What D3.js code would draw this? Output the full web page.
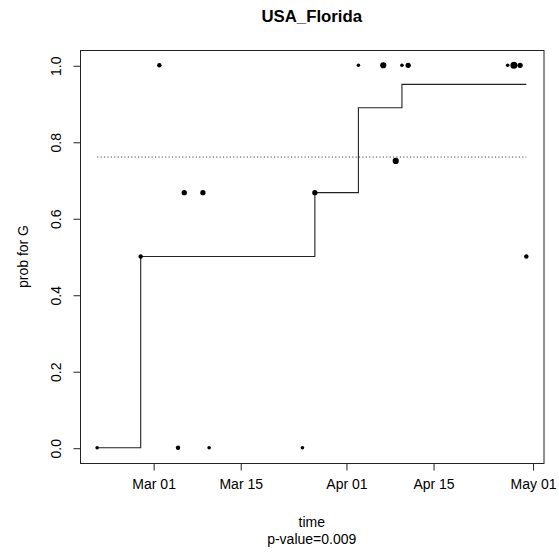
<!DOCTYPE html>
<html>
<head>
<meta charset="utf-8">
<script src="https://cdn.jsdelivr.net/npm/d3@7"></script>
<style>
  html, body { margin: 0; padding: 0; background: #fff; }
  text { font-family: "Liberation Sans", Arial, Helvetica, sans-serif; fill: #000; }
</style>
</head>
<body>
<svg id="chart" width="559" height="553"></svg>
<script>
// ---- data ----
const title = "USA_Florida";
const xLabel = "time";
const subLabel = "p-value=0.009";
const yLabel = "prob for G";

// observed points: date, proportion of G, relative count (dot size)
const pointDates = ["2020-02-21","2020-02-28","2020-03-02","2020-03-05","2020-03-06","2020-03-09",
                    "2020-03-10","2020-03-25","2020-03-27","2020-04-03","2020-04-07","2020-04-09",
                    "2020-04-10","2020-04-11","2020-04-27","2020-04-28","2020-04-29","2020-04-30"];
const pointProbs = [0, 0.5, 1, 0, 0.667, 0.667,
                    0, 0, 0.667, 1, 1, 0.75,
                    1, 1, 1, 1, 1, 0.5];
const pointCounts = [1, 2, 2, 2, 3, 3,
                     1, 1, 3, 1, 4, 4,
                     1, 3, 1, 5, 3, 2];

// fitted step function (value holds from date until next date)
const stepDates = ["2020-02-21","2020-02-28","2020-03-27","2020-04-03","2020-04-10","2020-04-30"];
const stepProbs = [0, 0.5, 0.667, 0.889, 0.95, 0.95];

// overall reference level (dotted line)
const refLevel = 0.76;

const xTickDates = ["2020-03-01","2020-03-15","2020-04-01","2020-04-15","2020-05-01"];
const yTicks = [0, 0.2, 0.4, 0.6, 0.8, 1.0];

// ---- drawing ----
const parse = d3.utcParse("%Y-%m-%d");
const svg = d3.select("#chart");
const plot = { left: 80, right: 543.5, top: 50, bottom: 463 };

const dMin = parse(stepDates[0]), dMax = parse(stepDates[stepDates.length - 1]);
const span = dMax - dMin;
const x = d3.scaleUtc()
  .domain([new Date(+dMin - 0.04 * span), new Date(+dMax + 0.04 * span)])
  .range([plot.left, plot.right]);
const y = d3.scaleLinear().domain([-0.04, 1.04]).range([plot.bottom, plot.top]);

// box
svg.append("rect")
  .attr("x", plot.left + 0.5).attr("y", plot.top + 0.5)
  .attr("width", plot.right - plot.left).attr("height", plot.bottom - plot.top)
  .attr("fill", "none").attr("stroke", "#222").attr("stroke-width", 1);

// x axis
const xAxis = d3.axisBottom(x)
  .tickValues(xTickDates.map(parse))
  .tickFormat(d3.utcFormat("%b %d"))
  .tickSize(7).tickPadding(9);
const gx = svg.append("g").attr("transform", `translate(0.5,${plot.bottom + 0.5})`).call(xAxis);
gx.select(".domain").remove();
gx.selectAll(".tick line").attr("stroke", "#222");
gx.selectAll(".tick text").style("font-size", "14px").attr("fill", "#000");

// y axis
const yAxis = d3.axisLeft(y).tickValues(yTicks).tickFormat(d3.format(".1f")).tickSize(7);
const gy = svg.append("g").attr("transform", `translate(${plot.left + 0.5},0.5)`).call(yAxis);
gy.select(".domain").remove();
gy.selectAll(".tick line").attr("stroke", "#222");
gy.selectAll(".tick text")
  .style("font-size", "14px").attr("fill", "#000")
  .attr("x", null).attr("dy", null)
  .attr("text-anchor", "middle")
  .attr("transform", "translate(-20,0) rotate(-90)");

// dotted reference line
svg.append("line")
  .attr("x1", x(dMin)).attr("x2", x(dMax))
  .attr("y1", y(refLevel)).attr("y2", y(refLevel))
  .attr("stroke", "#444").attr("stroke-width", 1)
  .attr("stroke-dasharray", "1.2,2.2");

// step line
const stepData = stepDates.map((d, i) => ({ date: parse(d), p: stepProbs[i] }));
svg.append("path")
  .datum(stepData)
  .attr("d", d3.line().x(d => x(d.date)).y(d => y(d.p)).curve(d3.curveStepAfter))
  .attr("fill", "none").attr("stroke", "#222").attr("stroke-width", 1.1);

// points
const r = d3.scaleLinear().domain([1, 5]).range([1.8, 3.5]);
const pts = pointDates.map((d, i) => ({ date: parse(d), p: pointProbs[i], n: pointCounts[i] }));
svg.append("g").selectAll("circle").data(pts).join("circle")
  .attr("cx", d => x(d.date)).attr("cy", d => y(d.p))
  .attr("r", d => r(d.n)).attr("fill", "#000");

// titles
const cx = (plot.left + plot.right) / 2;
svg.append("text").attr("x", cx).attr("y", 22).attr("text-anchor", "middle")
  .style("font-size", "16.8px").style("font-weight", "bold").text(title);
svg.append("text").attr("x", cx).attr("y", 527).attr("text-anchor", "middle")
  .style("font-size", "14px").text(xLabel);
svg.append("text").attr("x", cx).attr("y", 544).attr("text-anchor", "middle")
  .style("font-size", "14px").text(subLabel);
svg.append("text")
  .attr("transform", `translate(28,${(plot.top + plot.bottom) / 2}) rotate(-90)`)
  .attr("text-anchor", "middle")
  .style("font-size", "14px").text(yLabel);
</script>
</body>
</html>
